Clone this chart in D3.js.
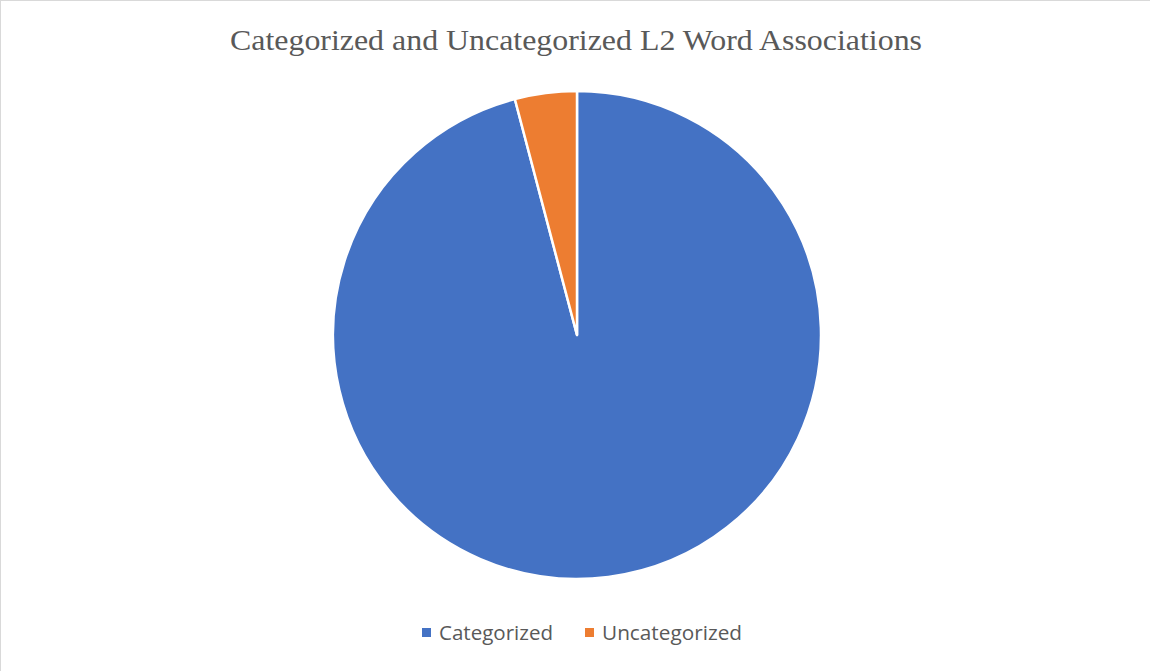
<!DOCTYPE html>
<html>
<head>
<meta charset="utf-8">
<script src="https://cdn.jsdelivr.net/npm/d3@7"></script>
<style>
  html, body { margin: 0; padding: 0; background: #fff; }
  svg { display: block; }
</style>
</head>
<body>
<svg id="chart" width="1150" height="671"></svg>
<script>
// Share of L2 word associations (percent)
const categories = ["Categorized", "Uncategorized"];
const values = [95.9, 4.1];
const colors = ["#4472C4", "#ED7D31"];
const titleText = "Categorized and Uncategorized L2 Word Associations";

const width = 1150, height = 671;
const svg = d3.select("#chart");

// chart area frame
svg.append("rect")
  .attr("x", 0.5).attr("y", 0.5)
  .attr("width", width + 10).attr("height", height + 10)
  .attr("fill", "#fff").attr("stroke", "#d9d9d9").attr("stroke-width", 1);

svg.append("text")
  .attr("x", 576).attr("y", 50)
  .attr("text-anchor", "middle")
  .attr("font-family", "'Liberation Serif', 'Times New Roman', serif")
  .attr("font-size", 30)
  .attr("textLength", 692)
  .attr("lengthAdjust", "spacingAndGlyphs")
  .attr("fill", "#595959")
  .text(titleText);

const cx = 577, cy = 335, r = 244;
const pie = d3.pie().sort(null).value(d => d.value);
const arc = d3.arc().innerRadius(0).outerRadius(r);
const data = categories.map((c, i) => ({ name: c, value: values[i], color: colors[i] }));

svg.append("g")
  .attr("transform", `translate(${cx},${cy})`)
  .selectAll("path")
  .data(pie(data))
  .join("path")
  .attr("d", arc)
  .attr("fill", d => d.data.color)
  .attr("stroke", "#fff")
  .attr("stroke-width", 2.5)
  .attr("stroke-linejoin", "round");

// legend
const legendX = [422, 585];
const legendW = [114, 140];
const legend = svg.append("g");
data.forEach((d, i) => {
  legend.append("rect")
    .attr("x", legendX[i]).attr("y", 628)
    .attr("width", 9).attr("height", 9)
    .attr("fill", d.color);
  legend.append("text")
    .attr("x", legendX[i] + 17).attr("y", 640)
    .attr("font-family", "'Open Sans', 'Noto Sans', sans-serif")
    .attr("font-size", 20)
    .attr("textLength", legendW[i])
    .attr("lengthAdjust", "spacingAndGlyphs")
    .attr("fill", "#595959")
    .text(d.name);
});
</script>
</body>
</html>
